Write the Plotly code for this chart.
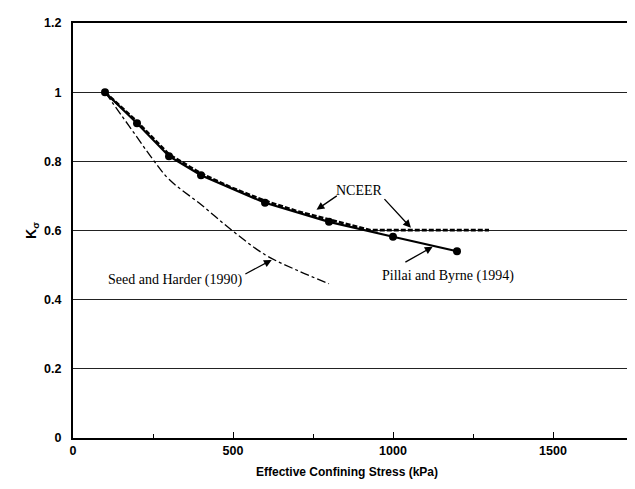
import plotly.graph_objects as go

# Pillai and Byrne (1994)
pillai_x = [100, 200, 300, 400, 600, 800, 1000, 1200]
pillai_y = [1.0, 0.91, 0.815, 0.76, 0.68, 0.625, 0.582, 0.54]

# NCEER recommendation
nceer_x = [100, 200, 300, 400, 500, 600, 700, 800, 900, 930, 1300]
nceer_y = [1.0, 0.915, 0.82, 0.765, 0.722, 0.686, 0.656, 0.632, 0.608, 0.601, 0.601]

# Seed and Harder (1990)
seed_x = [100, 150, 200, 250, 300, 400, 500, 600, 700, 800]
seed_y = [1.0, 0.935, 0.87, 0.805, 0.748, 0.675, 0.598, 0.53, 0.485, 0.446]

x_ticks = [0, 500, 1000, 1500]
y_ticks = [0, 0.2, 0.4, 0.6, 0.8, 1.0, 1.2]
y_tick_text = ["0", "0.2", "0.4", "0.6", "0.8", "1", "1.2"]

fig = go.Figure()

fig.add_trace(go.Scatter(x=seed_x, y=seed_y, mode="lines",
                         line=dict(color="black", width=1.3, dash="dashdot"),
                         line_shape="spline", showlegend=False))
fig.add_trace(go.Scatter(x=nceer_x, y=nceer_y, mode="lines",
                         line=dict(color="black", width=2.6, dash="5px,2px"),
                         showlegend=False))
fig.add_trace(go.Scatter(x=pillai_x, y=pillai_y, mode="lines+markers",
                         line=dict(color="black", width=2.2),
                         marker=dict(color="black", size=8),
                         showlegend=False))

serif = dict(family="Liberation Serif, Times New Roman, serif", size=14, color="black")
sans = "Liberation Sans, Arial, sans-serif"

texts = [
    ("NCEER", 894, 0.715),
    ("Pillai and Byrne (1994)", 1171, 0.469),
    ("Seed and Harder (1990)", 320, 0.457),
]
for t, x, y in texts:
    fig.add_annotation(x=x, y=y, text=t, showarrow=False, font=serif)

arrows = [
    (761, 0.66, 829, 0.703),
    (1056, 0.608, 969, 0.695),
    (1124, 0.553, 1034, 0.506),
    (621, 0.515, 534, 0.472),
]
for hx, hy, tx, ty in arrows:
    fig.add_annotation(x=hx, y=hy, ax=tx, ay=ty, axref="x", ayref="y",
                       text="", showarrow=True, arrowhead=2, arrowsize=1.2,
                       arrowwidth=1.3, arrowcolor="black")

fig.add_annotation(x=0.49, y=0, xref="paper", yref="paper", yshift=-43,
                   text="Effective Confining Stress (kPa)", showarrow=False,
                   font=dict(family=sans, size=12, color="black", weight="bold"))

fig.update_layout(
    width=635, height=489,
    margin=dict(l=65, r=8, t=15, b=59),
    plot_bgcolor="white", paper_bgcolor="white",
    xaxis=dict(range=[0, 1750], tickvals=x_ticks, ticks="inside", ticklen=6,
               tickcolor="black", showgrid=False, zeroline=False,
               showline=True, linecolor="black", linewidth=2, mirror=True,
               minor=dict(tickvals=[250, 750, 1250], ticks="inside", ticklen=4,
                          tickcolor="black"),
               tickfont=dict(family=sans, size=12.5, color="black", weight="bold")),
    yaxis=dict(range=[0, 1.2], tickvals=y_ticks, ticktext=y_tick_text,
               ticks="", showgrid=True, gridcolor="#222", gridwidth=1,
               zeroline=False, showline=True, linecolor="black", linewidth=2, mirror=True,
               ticklabelstandoff=7,
               title=dict(text="K<sub>σ</sub>", standoff=4,
                          font=dict(family=sans, size=14, color="black", weight="bold")),
               tickfont=dict(family=sans, size=12.5, color="black", weight="bold")),
)

fig.write_html("out.html")
